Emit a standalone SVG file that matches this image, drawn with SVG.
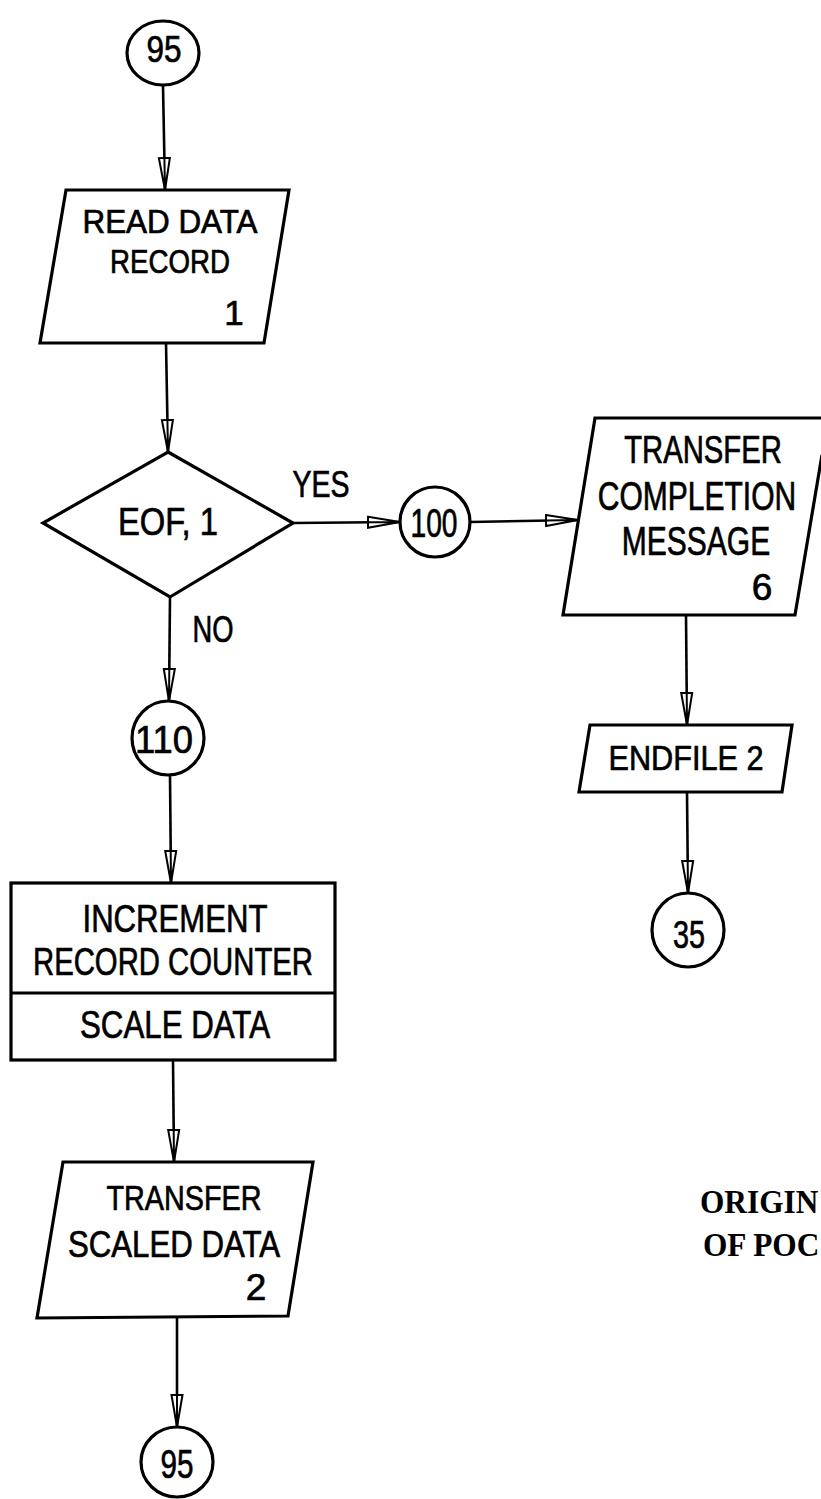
<svg xmlns="http://www.w3.org/2000/svg" width="821" height="1499" viewBox="0 0 821 1499">
<style>
.shape{fill:#fff;stroke:#000;stroke-width:3.2;stroke-linejoin:miter}
.fillonly{fill:#fff;stroke:none}
.open{fill:none;stroke:#000;stroke-width:3.2;stroke-linejoin:miter}
.edge{fill:none;stroke:#000;stroke-width:2.6}
.t{font-family:"Liberation Sans","DejaVu Sans",sans-serif;fill:#000;stroke:#000;stroke-width:0.7;text-anchor:middle}
.s{font-family:"Liberation Serif","DejaVu Serif",serif;font-weight:bold;fill:#000}
</style>
<defs>
<marker id="arr" markerUnits="userSpaceOnUse" markerWidth="34" markerHeight="14" viewBox="0 0 34 14" refX="33" refY="7" orient="auto">
<path d="M1,1.5 L33,7 L1,12.5 Z M1,7 L33,7" fill="#fff" stroke="#000" stroke-width="2"/>
</marker>
</defs>
<rect width="821" height="1499" fill="#fff"/>

<g id="connectors">
<line class="edge" x1="163" y1="86" x2="165" y2="190" marker-end="url(#arr)"/>
<line class="edge" x1="166" y1="343" x2="168" y2="452" marker-end="url(#arr)"/>
<line class="edge" x1="293" y1="523" x2="400" y2="522" marker-end="url(#arr)"/>
<line class="edge" x1="470" y1="522" x2="578" y2="520" marker-end="url(#arr)"/>
<line class="edge" x1="170" y1="597" x2="169" y2="701" marker-end="url(#arr)"/>
<line class="edge" x1="170" y1="775" x2="171" y2="883" marker-end="url(#arr)"/>
<line class="edge" x1="686" y1="615" x2="687" y2="725" marker-end="url(#arr)"/>
<line class="edge" x1="687" y1="792" x2="688" y2="893" marker-end="url(#arr)"/>
<line class="edge" x1="173" y1="1060" x2="174" y2="1162" marker-end="url(#arr)"/>
<line class="edge" x1="177" y1="1317" x2="177" y2="1427" marker-end="url(#arr)"/>
<text class="t" x="321" y="497" font-size="37" textLength="57" lengthAdjust="spacingAndGlyphs">YES</text>
<text class="t" x="213" y="642" font-size="37" textLength="41" lengthAdjust="spacingAndGlyphs">NO</text>
</g>

<g id="n95top">
<ellipse class="shape" cx="163" cy="53" rx="36" ry="32"/>
<text class="t" x="164" y="62" font-size="37" textLength="35" lengthAdjust="spacingAndGlyphs">95</text>
</g>

<g id="readData">
<polygon class="shape" points="66,190 289,190 264,343 40,343"/>
<text class="t" x="170" y="233" font-size="33" textLength="175" lengthAdjust="spacingAndGlyphs">READ DATA</text>
<text class="t" x="170" y="273" font-size="33" textLength="120" lengthAdjust="spacingAndGlyphs">RECORD</text>
<text class="t" x="234" y="325" font-size="35">1</text>
</g>

<g id="eof">
<polygon class="shape" points="168,452 293,523 170,597 43,523"/>
<text class="t" x="168" y="535" font-size="39" textLength="100" lengthAdjust="spacingAndGlyphs">EOF, 1</text>
</g>

<g id="n100">
<circle class="shape" cx="435" cy="522" r="35"/>
<text class="t" x="434" y="537" font-size="40" textLength="47" lengthAdjust="spacingAndGlyphs">100</text>
</g>

<g id="completion">
<polygon class="fillonly" points="595,418 821,418 821,460 795,615 563,615"/>
<path class="open" d="M822,418 L595,418 L563,615 L795,615 L822,455"/>
<text class="t" transform="translate(703,463) scale(0.75,1)" font-size="39">TRANSFER</text>
<text class="t" transform="translate(697,510) scale(0.75,1)" font-size="40">COMPLETION</text>
<text class="t" transform="translate(696,555) scale(0.75,1)" font-size="40">MESSAGE</text>
<text class="t" x="762" y="600" font-size="37">6</text>
</g>

<g id="endfile">
<polygon class="shape" points="590,725 792,725 782,792 579,792"/>
<text class="t" x="686" y="770" font-size="35" textLength="155" lengthAdjust="spacingAndGlyphs">ENDFILE 2</text>
</g>

<g id="n35">
<ellipse class="shape" cx="688" cy="930" rx="36" ry="37"/>
<text class="t" x="689" y="948" font-size="38" textLength="32" lengthAdjust="spacingAndGlyphs">35</text>
</g>

<g id="n110">
<ellipse class="shape" cx="168" cy="738" rx="36" ry="37"/>
<text class="t" x="164" y="753" font-size="39" textLength="58" lengthAdjust="spacingAndGlyphs">110</text>
</g>

<g id="increment">
<rect class="shape" x="11" y="883" width="324" height="177"/>
<line class="shape" x1="11" y1="993" x2="335" y2="993"/>
<text class="t" x="175" y="932" font-size="39" textLength="185" lengthAdjust="spacingAndGlyphs">INCREMENT</text>
<text class="t" x="173" y="975" font-size="39" textLength="280" lengthAdjust="spacingAndGlyphs">RECORD COUNTER</text>
<text class="t" x="175" y="1038" font-size="39" textLength="190" lengthAdjust="spacingAndGlyphs">SCALE DATA</text>
</g>

<g id="scaled">
<polygon class="shape" points="63,1162 313,1162 288,1316 37,1318"/>
<text class="t" x="184" y="1210" font-size="35" textLength="155" lengthAdjust="spacingAndGlyphs">TRANSFER</text>
<text class="t" x="174" y="1257" font-size="37" textLength="212" lengthAdjust="spacingAndGlyphs">SCALED DATA</text>
<text class="t" x="256" y="1300" font-size="37">2</text>
</g>

<g id="n95bottom">
<ellipse class="shape" cx="177" cy="1462" rx="36" ry="35"/>
<text class="t" x="177" y="1478" font-size="40" textLength="33" lengthAdjust="spacingAndGlyphs">95</text>
</g>

<g id="stamp">
<text class="s" transform="translate(700,1213) scale(0.95,1)" font-size="33">ORIGIN</text>
<text class="s" transform="translate(703,1256) scale(0.95,1)" font-size="33">OF POC</text>
</g>
</svg>
